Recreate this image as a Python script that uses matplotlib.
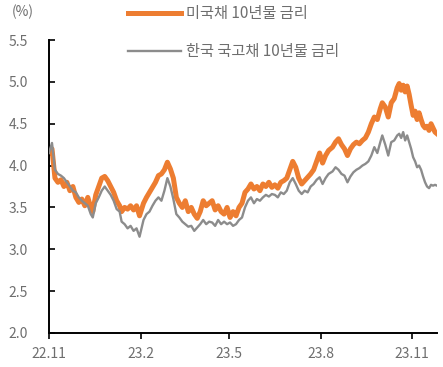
import numpy as np
import pandas as pd
import matplotlib
matplotlib.use('Agg')
import matplotlib.pyplot as plt
from matplotlib.lines import Line2D

plt.rcParams['font.family'] = ['Noto Sans CJK KR', 'DejaVu Sans']

# ===== data (% yields) =====
dates = [
    '2022-11-01', '2022-11-04', '2022-11-07', '2022-11-10', '2022-11-13', '2022-11-16',
    '2022-11-19', '2022-11-22', '2022-11-25', '2022-11-28', '2022-12-01', '2022-12-04',
    '2022-12-07', '2022-12-10', '2022-12-13', '2022-12-15', '2022-12-18', '2022-12-21',
    '2022-12-24', '2022-12-27', '2022-12-30', '2023-01-02', '2023-01-05', '2023-01-08',
    '2023-01-11', '2023-01-13', '2023-01-16', '2023-01-19', '2023-01-22', '2023-01-25',
    '2023-01-28', '2023-01-31', '2023-02-04', '2023-02-07', '2023-02-10', '2023-02-13',
    '2023-02-16', '2023-02-19', '2023-02-22', '2023-02-25', '2023-02-28', '2023-03-03',
    '2023-03-06', '2023-03-09', '2023-03-12', '2023-03-15', '2023-03-18', '2023-03-21',
    '2023-03-24', '2023-03-27', '2023-03-30', '2023-04-02', '2023-04-05', '2023-04-08',
    '2023-04-11', '2023-04-14', '2023-04-17', '2023-04-20', '2023-04-23', '2023-04-26',
    '2023-04-29', '2023-05-02', '2023-05-05', '2023-05-08', '2023-05-11', '2023-05-14',
    '2023-05-17', '2023-05-20', '2023-05-23', '2023-05-26', '2023-05-29', '2023-06-01',
    '2023-06-04', '2023-06-07', '2023-06-10', '2023-06-13', '2023-06-16', '2023-06-19',
    '2023-06-22', '2023-06-25', '2023-06-28', '2023-07-01', '2023-07-04', '2023-07-07',
    '2023-07-10', '2023-07-13', '2023-07-16', '2023-07-19', '2023-07-22', '2023-07-25',
    '2023-07-28', '2023-07-31', '2023-08-03', '2023-08-06', '2023-08-09', '2023-08-13',
    '2023-08-16', '2023-08-19', '2023-08-22', '2023-08-25', '2023-08-28', '2023-08-31',
    '2023-09-03', '2023-09-06', '2023-09-09', '2023-09-12', '2023-09-15', '2023-09-18',
    '2023-09-21', '2023-09-24', '2023-09-27', '2023-09-30', '2023-10-02', '2023-10-05',
    '2023-10-08', '2023-10-11', '2023-10-14', '2023-10-17', '2023-10-19', '2023-10-21',
    '2023-10-23', '2023-10-25', '2023-10-27', '2023-10-29', '2023-10-31', '2023-11-02',
    '2023-11-04', '2023-11-06', '2023-11-08', '2023-11-10', '2023-11-12', '2023-11-14',
    '2023-11-16', '2023-11-18', '2023-11-20', '2023-11-22', '2023-11-24', '2023-11-26',
]

us_10y = [
    4.15, 4.20, 3.85, 3.80, 3.83, 3.75, 3.80, 3.70, 3.75, 3.62, 3.56, 3.60,
    3.52, 3.62, 3.50, 3.45, 3.65, 3.75, 3.85, 3.87, 3.82, 3.75, 3.68, 3.58,
    3.52, 3.45, 3.50, 3.48, 3.52, 3.47, 3.52, 3.40, 3.55, 3.62, 3.68, 3.74,
    3.80, 3.88, 3.90, 3.95, 4.04, 3.96, 3.85, 3.62, 3.55, 3.50, 3.58, 3.45,
    3.50, 3.42, 3.37, 3.45, 3.58, 3.52, 3.55, 3.58, 3.47, 3.52, 3.45, 3.42,
    3.50, 3.38, 3.45, 3.40, 3.50, 3.55, 3.68, 3.72, 3.78, 3.72, 3.75, 3.70,
    3.78, 3.75, 3.80, 3.74, 3.77, 3.73, 3.80, 3.82, 3.85, 3.95, 4.05, 3.98,
    3.85, 3.78, 3.82, 3.86, 3.90, 3.95, 4.05, 4.15, 4.03, 4.12, 4.18, 4.22,
    4.28, 4.32, 4.25, 4.20, 4.12, 4.20, 4.25, 4.28, 4.26, 4.30, 4.33, 4.40,
    4.50, 4.58, 4.55, 4.68, 4.75, 4.70, 4.58, 4.75, 4.80, 4.93, 4.98, 4.90,
    4.96, 4.88, 4.95, 4.85, 4.72, 4.60, 4.65, 4.55, 4.63, 4.55, 4.48, 4.45,
    4.47, 4.42, 4.50, 4.45, 4.40, 4.38,
]

kr_10y = [
    4.15, 4.27, 3.95, 3.90, 3.88, 3.85, 3.80, 3.75, 3.70, 3.68, 3.62, 3.58,
    3.55, 3.52, 3.42, 3.38, 3.55, 3.62, 3.70, 3.75, 3.70, 3.65, 3.58, 3.48,
    3.45, 3.33, 3.30, 3.25, 3.28, 3.22, 3.25, 3.15, 3.35, 3.42, 3.45, 3.52,
    3.58, 3.62, 3.58, 3.70, 3.85, 3.75, 3.60, 3.42, 3.38, 3.33, 3.30, 3.27,
    3.28, 3.22, 3.26, 3.30, 3.35, 3.30, 3.33, 3.32, 3.28, 3.35, 3.30, 3.33,
    3.30, 3.32, 3.28, 3.30, 3.35, 3.38, 3.50, 3.58, 3.62, 3.55, 3.60, 3.58,
    3.62, 3.65, 3.63, 3.66, 3.65, 3.62, 3.68, 3.66, 3.70, 3.80, 3.85, 3.78,
    3.70, 3.66, 3.70, 3.68, 3.75, 3.78, 3.83, 3.86, 3.78, 3.85, 3.90, 3.93,
    3.98, 3.95, 3.90, 3.88, 3.80, 3.87, 3.92, 3.95, 3.97, 4.00, 4.02, 4.05,
    4.12, 4.22, 4.15, 4.28, 4.36, 4.25, 4.12, 4.28, 4.30, 4.36, 4.38, 4.33,
    4.40, 4.30, 4.36, 4.28, 4.20, 4.10, 4.05, 3.98, 4.00, 3.95, 3.87, 3.80,
    3.75, 3.73, 3.77, 3.76, 3.77, 3.76,
]

tick_dates = ['2022-11-01', '2023-02-01', '2023-05-01', '2023-08-01', '2023-11-01']
tick_labels = ['22.11', '23.2', '23.5', '23.8', '23.11']
us_label = '미국채 10년물 금리'
kr_label = '한국 국고채 10년물 금리'

x = pd.to_datetime(dates)
orange = '#ED7D31'
gray = '#8C8C8C'
text_c = '#6E6E6E'

fig = plt.figure(figsize=(4.43, 3.67), dpi=100)
ax = fig.add_axes([49 / 443, 34 / 367, 388 / 443, 293 / 367])

ax.plot(x, us_10y, color=orange, linewidth=3.6, solid_joinstyle='round', zorder=2)
ax.plot(x, kr_10y, color=gray, linewidth=1.7, zorder=3)

ax.set_ylim(2.0, 5.5)
ax.set_yticks(np.arange(2.0, 5.51, 0.5))
ax.set_yticklabels([f'{v:.1f}' for v in np.arange(2.0, 5.51, 0.5)])
ax.set_xlim(pd.Timestamp('2022-11-01'), pd.Timestamp('2023-11-26'))
ax.set_xticks(pd.to_datetime(tick_dates))
ax.set_xticklabels(tick_labels)

for s in ['top', 'right']:
    ax.spines[s].set_visible(False)
for s in ['left', 'bottom']:
    ax.spines[s].set_linewidth(1.4)
    ax.spines[s].set_color('black')

ax.tick_params(axis='y', direction='in', length=4, width=1.2, pad=15,
               labelsize=10, labelcolor=text_c)
ax.tick_params(axis='x', direction='out', length=4, width=1.2, pad=6,
               labelsize=10, labelcolor=text_c)

fig.text(12 / 443, 1 - 12 / 367, '(%)', fontsize=10, color=text_c, va='center')

handles = [Line2D([], [], color=orange, linewidth=3.6),
           Line2D([], [], color=gray, linewidth=1.7)]
fig.legend(handles, [us_label, kr_label], loc='upper left',
           bbox_to_anchor=(128 / 443, 1 - 5 / 367), frameon=False,
           fontsize=11, labelcolor=text_c, handlelength=3.5,
           handletextpad=0.3, labelspacing=1.4, borderpad=0, borderaxespad=0)

fig.savefig('out.png', dpi=100)
